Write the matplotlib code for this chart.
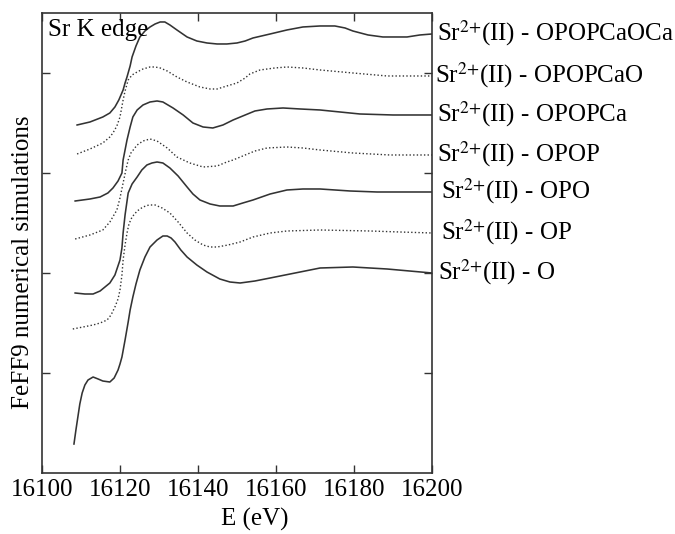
import matplotlib
matplotlib.use("Agg")
import matplotlib.pyplot as plt
import matplotlib.transforms as mtransforms

plt.rcParams["font.family"] = ["Liberation Serif", "DejaVu Serif"]
plt.rcParams["mathtext.fontset"] = "stix"
plt.rcParams["font.size"] = 18

# energy (eV) and simulated intensity (arbitrary units, offset) for each cluster
e_opopcaoca = [16109.0, 16112.3, 16115.6, 16117.4, 16118.7, 16119.7, 16120.8, 16121.3, 16121.8,
               16122.6, 16123.1, 16124.1, 16125.1, 16126.4, 16127.7, 16129.0, 16130.3, 16131.5,
               16132.8, 16134.6, 16137.2, 16139.7, 16142.3, 16144.9, 16147.4, 16150.0, 16152.1,
               16154.1, 16158.5, 16162.8, 16166.9, 16171.3, 16175.1, 16177.7, 16179.7, 16183.6,
               16187.4, 16190.5, 16193.6, 16196.9, 16200.0]
y_opopcaoca = [3.48, 3.51, 3.56, 3.60, 3.66, 3.73, 3.83, 3.90, 3.96,
               4.07, 4.16, 4.27, 4.36, 4.42, 4.46, 4.49, 4.51, 4.51,
               4.48, 4.43, 4.36, 4.32, 4.30, 4.29, 4.29, 4.30, 4.32,
               4.35, 4.39, 4.43, 4.46, 4.47, 4.47, 4.45, 4.42, 4.38,
               4.36, 4.36, 4.36, 4.38, 4.39]

e_opopcao = [16109.0, 16112.3, 16115.6, 16117.4, 16118.2, 16119.2, 16120.0, 16120.8, 16121.3,
             16122.1, 16123.1, 16124.4, 16125.9, 16127.7, 16129.0, 16130.3, 16132.1, 16134.6,
             16137.2, 16140.5, 16143.1, 16144.9, 16147.4, 16150.0, 16152.1, 16153.3, 16155.9,
             16159.7, 16162.8, 16166.9, 16171.3, 16179.7, 16188.5, 16194.4, 16200.0]
y_opopcao = [3.19, 3.24, 3.30, 3.36, 3.40, 3.47, 3.56, 3.73, 3.82,
             3.93, 3.98, 4.01, 4.04, 4.06, 4.06, 4.05, 4.02, 3.96,
             3.91, 3.86, 3.84, 3.84, 3.87, 3.90, 3.95, 3.99, 4.03,
             4.05, 4.06, 4.05, 4.03, 4.00, 3.97, 3.97, 3.97]

e_opopca = [16108.5, 16112.3, 16114.9, 16116.9, 16118.2, 16119.5, 16120.5, 16120.8, 16121.3,
            16121.8, 16122.6, 16123.3, 16124.4, 16125.9, 16127.7, 16129.5, 16131.0, 16133.6,
            16136.2, 16138.7, 16141.3, 16143.8, 16146.4, 16149.0, 16152.1, 16154.6, 16157.7,
            16161.8, 16166.2, 16171.3, 16176.4, 16181.5, 16190.0, 16200.0]
y_opopca = [2.72, 2.74, 2.76, 2.80, 2.85, 2.92, 3.00, 3.13, 3.23,
            3.33, 3.46, 3.56, 3.63, 3.68, 3.71, 3.72, 3.71, 3.65,
            3.58, 3.50, 3.46, 3.45, 3.48, 3.53, 3.58, 3.62, 3.64,
            3.65, 3.64, 3.63, 3.61, 3.59, 3.58, 3.58]

e_opop = [16108.5, 16112.3, 16115.6, 16117.4, 16119.2, 16120.0, 16120.8, 16121.5, 16122.1,
          16122.8, 16124.4, 16125.9, 16127.7, 16129.5, 16132.1, 16134.6, 16137.9, 16141.3,
          16144.9, 16147.4, 16149.0, 16152.1, 16154.6, 16157.7, 16162.8, 16166.9, 16171.3,
          16179.7, 16189.2, 16200.0]
y_opop = [2.34, 2.38, 2.43, 2.51, 2.63, 2.75, 2.90, 3.03, 3.13,
          3.20, 3.28, 3.32, 3.34, 3.32, 3.25, 3.16, 3.10, 3.06,
          3.07, 3.11, 3.13, 3.18, 3.22, 3.25, 3.26, 3.25, 3.23,
          3.20, 3.18, 3.18]

e_opo = [16108.5, 16111.0, 16113.1, 16114.9, 16117.4, 16118.7, 16120.0, 16120.5, 16120.8,
         16121.3, 16122.1, 16123.1, 16124.4, 16125.6, 16126.9, 16128.2, 16129.5, 16131.0,
         16132.8, 16134.9, 16137.2, 16138.7, 16140.5, 16143.1, 16145.6, 16149.0, 16151.5,
         16154.1, 16158.5, 16162.8, 16166.9, 16171.3, 16179.0, 16185.9, 16200.0]
y_opo = [1.80, 1.79, 1.79, 1.82, 1.90, 1.98, 2.13, 2.25, 2.40,
         2.58, 2.80, 2.89, 2.96, 3.03, 3.08, 3.10, 3.11, 3.10,
         3.05, 2.97, 2.86, 2.79, 2.73, 2.69, 2.67, 2.67, 2.70,
         2.73, 2.79, 2.83, 2.84, 2.84, 2.82, 2.81, 2.81]

e_op = [16107.9, 16110.5, 16113.1, 16114.9, 16116.7, 16117.7, 16118.7, 16119.5, 16120.0,
        16120.5, 16120.8, 16121.3, 16121.8, 16122.3, 16123.1, 16124.4, 16125.9, 16127.4,
        16129.0, 16130.8, 16132.8, 16134.9, 16137.2, 16139.2, 16141.3, 16143.1, 16144.9,
        16147.7, 16150.8, 16154.1, 16158.5, 16162.8, 16171.3, 16184.1, 16191.8, 16200.0]
y_op = [1.44, 1.46, 1.48, 1.50, 1.53, 1.58, 1.66, 1.74, 1.83,
        1.98, 2.13, 2.28, 2.40, 2.49, 2.56, 2.62, 2.66, 2.68,
        2.68, 2.65, 2.60, 2.51, 2.40, 2.33, 2.28, 2.26, 2.26,
        2.28, 2.31, 2.36, 2.40, 2.42, 2.43, 2.42, 2.41, 2.40]

e_o = [16108.2, 16108.7, 16109.2, 16109.7, 16110.3, 16111.0, 16111.8, 16113.1, 16114.4,
       16115.6, 16117.4, 16118.5, 16119.5, 16120.0, 16120.5, 16121.3, 16122.1, 16122.6,
       16123.3, 16124.1, 16125.1, 16126.4, 16127.7, 16129.5, 16131.0, 16132.1, 16133.1,
       16134.1, 16135.6, 16137.2, 16139.7, 16142.3, 16145.6, 16148.2, 16150.8, 16154.6,
       16158.5, 16164.9, 16171.3, 16179.7, 16188.5, 16200.0]
y_o = [0.29, 0.43, 0.56, 0.69, 0.80, 0.88, 0.93, 0.96, 0.94,
       0.92, 0.91, 0.95, 1.03, 1.09, 1.16, 1.33, 1.51, 1.63,
       1.76, 1.89, 2.03, 2.16, 2.26, 2.33, 2.37, 2.37, 2.35,
       2.31, 2.23, 2.16, 2.08, 2.01, 1.94, 1.91, 1.90, 1.92,
       1.95, 2.00, 2.05, 2.06, 2.04, 2.00]

names = ["OPOPCaOCa", "OPOPCaO", "OPOPCa", "OPOP", "OPO", "OP", "O"]
energies = [e_opopcaoca, e_opopcao, e_opopca, e_opop, e_opo, e_op, e_o]
spectra = [y_opopcaoca, y_opopcao, y_opopca, y_opop, y_opo, y_op, y_o]
dotted = [False, True, False, True, False, True, False]

xticks = [16100, 16120, 16140, 16160, 16180, 16200]

ink = "#333333"

fig = plt.figure(figsize=(6.75, 5.34), dpi=100)
ax = fig.add_axes([0.0622, 0.1142, 0.5778, 0.8615])

trans = mtransforms.blended_transform_factory(ax.transAxes, ax.transData)
label_dx = [1.013, 1.008, 1.013, 1.013, 1.023, 1.023, 1.016]

for i in range(len(names)):
    ls = (0, (1, 1.6)) if dotted[i] else "-"
    lw = 1.0 if dotted[i] else 1.15
    ax.plot(energies[i], spectra[i], color=ink, lw=lw, ls=ls)
    ax.text(label_dx[i], spectra[i][-1] - 0.065, r"Sr$^{2{+}}$(II) - " + names[i],
            transform=trans, ha="left", va="baseline", fontsize=18, color="black",
            clip_on=False)

ax.set_xlim(16100, 16200)
ax.set_ylim(0, 4.6)
ax.set_xticks(xticks)
ax.set_xticklabels([str(t) for t in xticks])
ax.set_yticks([1, 2, 3, 4])
ax.set_yticklabels([])
ax.tick_params(direction="in", length=6, width=1.0, color=ink, top=True, right=True,
               labelsize=18, pad=4)
for sp in ax.spines.values():
    sp.set_color(ink)
    sp.set_linewidth(1.2)

ax.text(0.015, 0.963, "Sr K edge", transform=ax.transAxes, ha="left", va="center",
        fontsize=18)

fig.text(23 / 675, 1 - 262 / 534, "FeFF9 numerical simulations", rotation=90,
         ha="center", va="center", fontsize=18)
fig.text(255 / 675, 1 - 519 / 534, "E (eV)", ha="center", va="center", fontsize=18)

fig.savefig("out.png", dpi=100)
